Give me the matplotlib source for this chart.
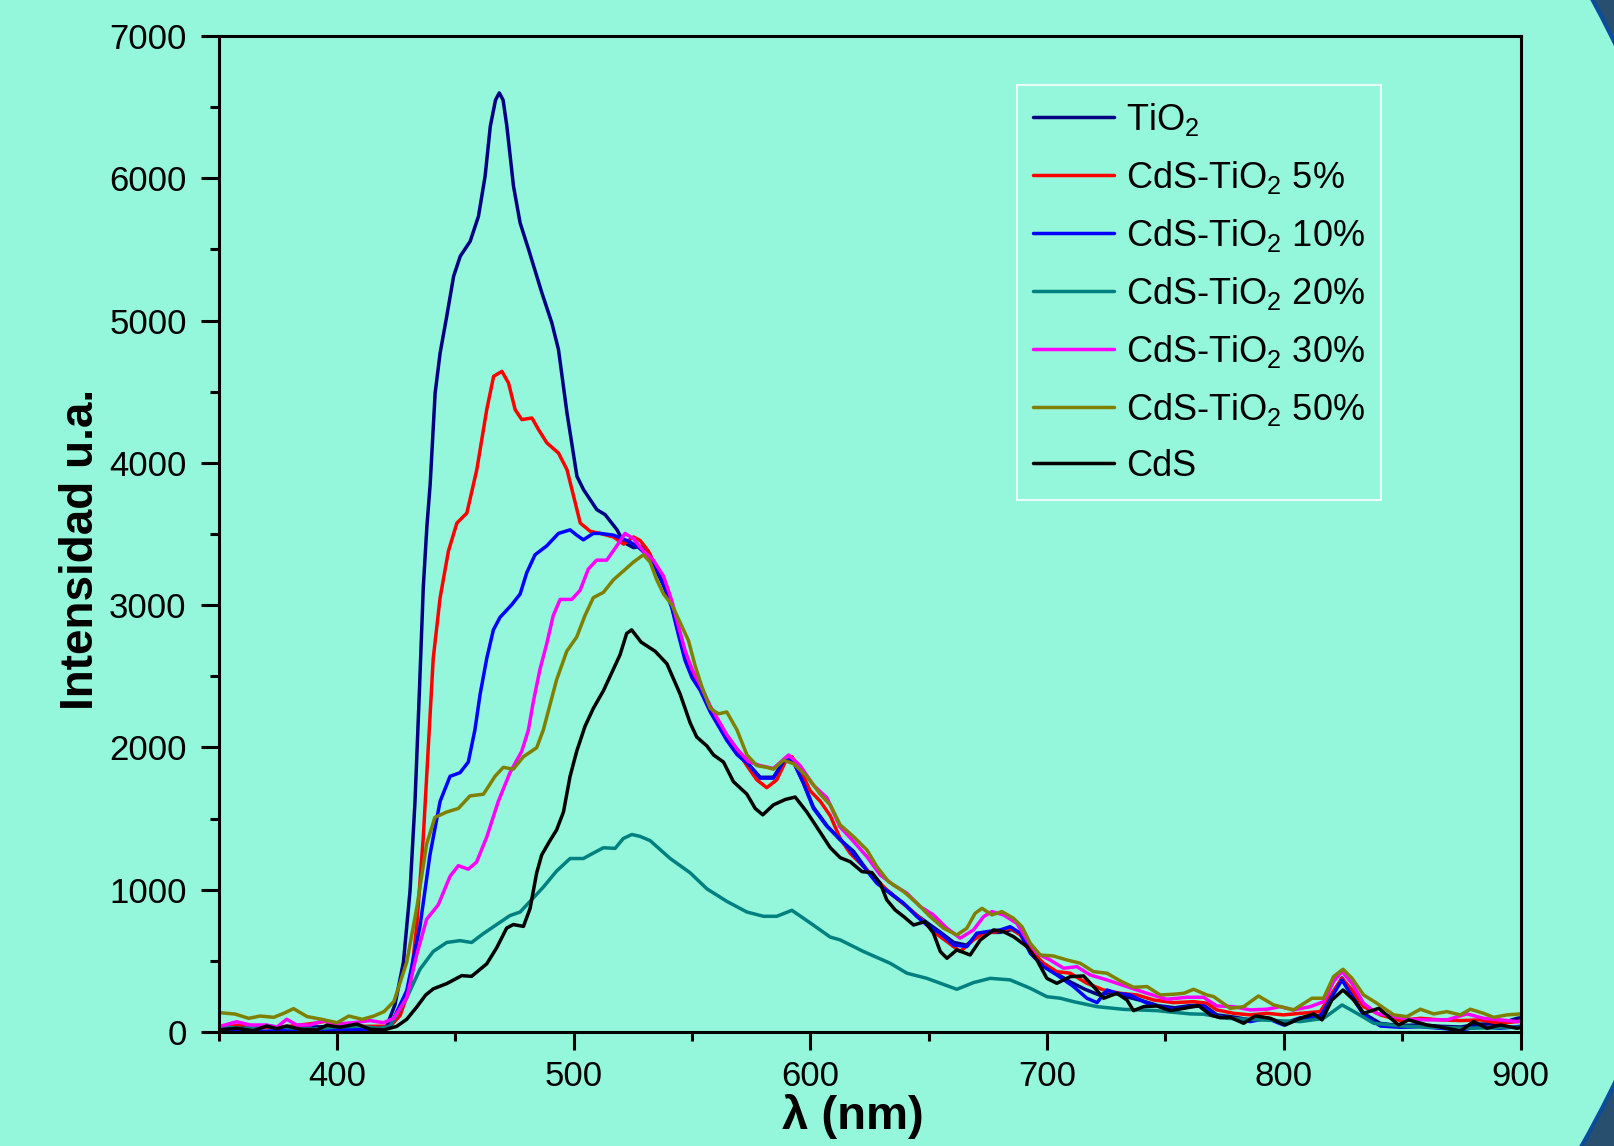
import matplotlib
matplotlib.use("Agg")
import matplotlib.pyplot as plt
import matplotlib.patches as mpatches
import matplotlib.transforms as mtransforms
from matplotlib.ticker import MultipleLocator

plt.rcParams['font.family'] = ['Liberation Sans', 'DejaVu Sans']
plt.rcParams['mathtext.fontset'] = 'custom'
plt.rcParams['mathtext.rm'] = 'Liberation Sans'

# PL spectra: (wavelength nm, intensity a.u.)
tio2 = [(350, 40), (360, 30), (370, 45), (380, 25), (390, 35), (400, 40), (410, 20), (418, 25),
        (421.0, 39), (424.5, 190), (428.1, 491), (430.9, 993), (433.0, 1621), (434.8, 2374),
        (436.5, 3128), (438.0, 3550), (439.4, 3850), (441.5, 4491), (443.6, 4772), (446.4, 5030),
        (449.3, 5311), (452.1, 5452), (456.3, 5557), (459.8, 5733), (462.6, 6014), (464.8, 6365),
        (467.0, 6550), (468.6, 6600), (470.2, 6550), (471.8, 6365), (474.6, 5944), (477.4, 5686),
        (481.0, 5498), (486.6, 5194), (490.8, 4983), (493.6, 4796), (497.2, 4350), (501.4, 3905),
        (504.2, 3811), (509.8, 3671), (513.3, 3636), (518.3, 3530), (521.1, 3442), (525.3, 3404),
        (529.5, 3416), (532.3, 3354), (535.1, 3240), (538.0, 3140), (541.5, 2990), (544.3, 2810),
        (547.1, 2640), (550.0, 2510), (553.5, 2410), (557.7, 2260), (561.2, 2160), (564.7, 2060),
        (569.0, 1960), (573.9, 1880), (578.8, 1790), (584.4, 1790), (589.4, 1920), (592.9, 1900),
        (597.1, 1750), (601.3, 1580), (607.0, 1450), (612.6, 1350), (618.2, 1270), (622.5, 1170),
        (628.1, 1050), (633.7, 980), (639.4, 900), (645.0, 820), (650.0, 760), (655.0, 700),
        (660.5, 630), (666.0, 610), (670.5, 680), (675.0, 700), (680.0, 700), (685.0, 720),
        (689.0, 690), (693.0, 570), (698.5, 470), (704.0, 410), (710.0, 350), (716.0, 300),
        (722.0, 260), (727.0, 280), (733.0, 250), (740.0, 220), (747.0, 185), (754.0, 170),
        (760.0, 185), (766.0, 190), (771.7, 120), (778.8, 105), (785.8, 85), (792.9, 100),
        (799.9, 60), (807.0, 100), (815.4, 115), (820.3, 260), (824.6, 380), (828.8, 260),
        (833.7, 130), (840.8, 60), (849.2, 45), (857.7, 50), (866.1, 40), (874.6, 35),
        (883.0, 55), (891.5, 60), (898.5, 96), (900, 100)]

cds_tio2_5 = [(350, 30), (360, 50), (370, 30), (380, 40), (390, 60), (395, 75), (400, 50), (410, 40),
              (418, 40), (422.4, 39), (426.7, 115), (430.9, 315), (433.7, 742), (436.5, 1370),
              (438.6, 1998), (440.7, 2626), (443.6, 3052), (447.1, 3379), (450.7, 3577), (454.9, 3647),
              (459.1, 3952), (463.3, 4374), (466.2, 4608), (469.7, 4643), (472.5, 4561), (475.3, 4374),
              (478.1, 4304), (482.4, 4315), (485.2, 4233), (488.7, 4140), (493.6, 4069), (497.2, 3952),
              (500.0, 3765), (502.8, 3577), (507.0, 3519), (511.2, 3504), (516.8, 3479), (521.1, 3429),
              (525.3, 3479), (528.1, 3454), (531.6, 3379), (535.1, 3253), (538.0, 3160), (541.5, 3010),
              (544.3, 2840), (547.1, 2665), (550.0, 2535), (553.5, 2430), (557.7, 2280), (561.2, 2180),
              (564.7, 2080), (569.0, 1980), (573.2, 1872), (577.4, 1772), (581.6, 1717), (585.8, 1772),
              (589.4, 1897), (592.2, 1935), (595.7, 1847), (599.9, 1696), (604.2, 1621), (608.4, 1520),
              (612.6, 1360), (616.8, 1256), (622.5, 1162), (628.1, 1069), (633.7, 975), (640.8, 881),
              (646.4, 799), (652.0, 705), (657.7, 635), (663.3, 565), (668.9, 647), (673.2, 694),
              (678.8, 705), (684.4, 729), (688.7, 682), (692.9, 577), (698.5, 483), (704.1, 424),
              (709.8, 413), (716.8, 342), (723.9, 295), (730.9, 272), (738.0, 260), (745.0, 225),
              (753.4, 206), (761.9, 213), (767.5, 202), (771.7, 155), (778.8, 131), (785.8, 120),
              (792.9, 131), (799.9, 120), (807.0, 131), (815.4, 143), (820.3, 272), (824.6, 377),
              (828.8, 295), (833.7, 178), (840.8, 120), (849.2, 80), (857.7, 96), (866.1, 85),
              (874.6, 80), (883.0, 85), (891.5, 61), (898.5, 73), (900, 75)]

cds_tio2_10 = [(350, 10), (360, 15), (370, 5), (380, 15), (390, 10), (400, 20), (410, 15), (418, 25),
               (422.4, 39), (429.5, 290), (435.1, 742), (439.3, 1244), (443.6, 1621), (447.8, 1797),
               (452.0, 1822), (455.5, 1897), (458.3, 2123), (460.5, 2374), (463.3, 2626), (466.1, 2826),
               (468.9, 2914), (473.8, 3002), (477.4, 3078), (480.2, 3228), (483.7, 3354), (488.6, 3416),
               (493.6, 3504), (498.5, 3529), (501.3, 3492), (504.1, 3459), (508.3, 3504), (511.2, 3504),
               (516.8, 3492), (522.5, 3454), (526.7, 3416), (530.9, 3354), (535.1, 3253), (538.0, 3140),
               (541.5, 2980), (544.3, 2790), (547.1, 2610), (550.0, 2490), (553.5, 2400), (557.7, 2250),
               (561.2, 2150), (564.7, 2050), (569.0, 1950), (573.9, 1880), (578.8, 1784), (584.4, 1784),
               (589.4, 1922), (592.9, 1897), (597.1, 1747), (601.3, 1571), (607.0, 1445), (612.6, 1355),
               (616.8, 1279), (622.5, 1162), (628.1, 1045), (633.7, 975), (639.4, 905), (645.0, 811),
               (649.2, 752), (654.9, 694), (660.5, 612), (666.1, 600), (670.3, 694), (674.6, 705),
               (680.2, 717), (684.4, 740), (688.7, 694), (692.9, 553), (698.5, 459), (704.1, 401),
               (711.2, 319), (716.8, 237), (721.1, 206), (725.3, 295), (729.5, 272), (735.1, 260),
               (742.2, 202), (747.8, 178), (753.4, 159), (760.5, 178), (766.1, 183), (771.7, 108),
               (778.8, 96), (785.8, 73), (792.9, 96), (799.9, 49), (807.0, 96), (815.4, 108),
               (820.3, 249), (824.6, 366), (828.8, 249), (833.7, 120), (840.8, 42), (849.2, 33),
               (857.7, 37), (866.1, 26), (874.6, 14), (883.0, 37), (891.5, 26), (898.5, 37), (900, 40)]

cds_tio2_20 = [(350, 40), (360, 25), (370, 40), (380, 30), (390, 20), (400, 35), (410, 40), (418, 25),
               (422.4, 39), (429.5, 240), (435.1, 441), (440.7, 566), (446.4, 629), (452.0, 642),
               (456.9, 629), (461.9, 692), (467.5, 755), (473.1, 818), (477.4, 843), (481.6, 918),
               (487.2, 1018), (492.8, 1131), (498.5, 1219), (504.1, 1219), (508.3, 1257), (512.6, 1295),
               (517.5, 1290), (521.0, 1360), (524.6, 1388), (528.0, 1375), (532.3, 1345), (540.8, 1219),
               (549.2, 1119), (556.3, 1006), (564.7, 918), (573.2, 843), (580.2, 813), (585.8, 813),
               (592.2, 855), (599.9, 767), (608.4, 667), (612.6, 647), (622.5, 565), (633.7, 483),
               (640.8, 413), (649.2, 377), (661.9, 300), (668.9, 347), (676.0, 377), (684.4, 366),
               (692.9, 307), (699.9, 248), (705.6, 237), (711.2, 213), (721.1, 178), (732.3, 159),
               (746.4, 150), (760.5, 127), (766.0, 125), (776.0, 96), (790.1, 85), (807.0, 73),
               (816.8, 96), (824.6, 190), (830.9, 131), (838.0, 61), (849.2, 42), (863.3, 33),
               (877.4, 26), (898.5, 33), (900, 33)]

cds_tio2_30 = [(350, 37), (357.7, 72), (363.4, 49), (370.4, 49), (374.6, 33), (378.8, 89), (383.1, 49),
               (388.7, 49), (394.4, 80), (400.0, 56), (407.0, 65), (414.1, 80), (419.7, 65), (424.0, 96),
               (429.5, 240), (433.7, 541), (437.9, 792), (442.8, 893), (447.8, 1094), (451.3, 1169),
               (455.5, 1144), (459.0, 1194), (463.3, 1370), (468.2, 1621), (473.1, 1822), (478.1, 1973),
               (480.9, 2123), (483.0, 2324), (485.8, 2550), (488.6, 2726), (491.4, 2927), (494.3, 3040),
               (499.2, 3040), (502.7, 3103), (506.2, 3253), (509.7, 3316), (514.0, 3316), (518.2, 3416),
               (521.7, 3504), (525.3, 3467), (529.5, 3379), (533.7, 3316), (538.0, 3203), (541.5, 3030),
               (544.3, 2850), (547.1, 2680), (550.0, 2550), (553.5, 2440), (557.7, 2290), (561.2, 2190),
               (564.7, 2090), (569.0, 1990), (573.9, 1900), (578.8, 1872), (584.4, 1852), (590.8, 1947),
               (595.7, 1872), (601.3, 1734), (607.0, 1646), (612.6, 1440), (618.2, 1340), (623.9, 1232),
               (629.5, 1104), (635.1, 1033), (640.8, 975), (646.4, 881), (652.0, 823), (657.7, 729),
               (663.3, 659), (668.9, 717), (673.2, 811), (676.7, 846), (681.6, 823), (687.2, 764),
               (691.5, 647), (695.7, 553), (701.3, 506), (707.0, 448), (712.6, 459), (718.2, 401),
               (725.3, 366), (733.7, 319), (742.2, 272), (750.6, 230), (759.1, 244), (766.1, 244),
               (771.7, 183), (778.8, 178), (785.8, 155), (792.9, 160), (798.5, 178), (804.1, 155),
               (811.2, 178), (816.8, 213), (821.0, 354), (824.6, 424), (828.8, 342), (833.7, 202),
               (839.3, 131), (846.4, 108), (853.4, 89), (860.5, 85), (868.9, 85), (877.4, 127),
               (884.4, 96), (891.5, 85), (898.5, 73), (900, 75)]

cds_tio2_50 = [(350, 136), (357, 126), (362.7, 96), (367.6, 112), (373.3, 103), (377.5, 131), (381.7, 164),
               (387.4, 108), (393.0, 91), (400.1, 65), (405.0, 112), (410.7, 89), (415.6, 112), (419.9, 143),
               (424.1, 215), (429.5, 491), (433.7, 868), (437.9, 1320), (441.4, 1508), (446.4, 1546),
               (451.3, 1571), (456.2, 1659), (461.9, 1671), (466.8, 1797), (470.3, 1860), (474.5, 1847),
               (478.8, 1935), (484.4, 1998), (487.2, 2123), (490.0, 2299), (492.8, 2475), (497.1, 2676),
               (501.3, 2776), (504.8, 2927), (508.3, 3052), (512.6, 3090), (516.8, 3178), (521.1, 3241),
               (525.3, 3303), (529.5, 3354), (532.3, 3303), (535.1, 3178), (538.0, 3078), (541.5, 3002),
               (545.0, 2877), (548.5, 2751), (551.3, 2575), (554.2, 2425), (557.7, 2274), (561.2, 2236),
               (564.7, 2249), (569.0, 2123), (573.2, 1947), (577.4, 1872), (581.6, 1860), (584.4, 1847),
               (588.7, 1910), (592.9, 1885), (598.5, 1797), (604.2, 1671), (608.4, 1596), (612.6, 1455),
               (618.2, 1373), (623.9, 1279), (628.1, 1162), (633.0, 1057), (639.4, 987), (645.0, 905),
               (650.6, 811), (656.3, 729), (661.9, 682), (666.1, 729), (669.6, 834), (672.5, 869),
               (676.7, 823), (680.9, 846), (685.8, 799), (689.4, 740), (692.9, 623), (697.1, 541),
               (702.7, 534), (708.4, 506), (714.0, 483), (719.6, 424), (725.3, 413), (730.9, 359),
               (736.5, 314), (742.2, 319), (747.8, 260), (753.4, 265), (757.7, 272), (761.9, 300),
               (767.5, 260), (770.3, 249), (777.4, 166), (783.0, 178), (789.3, 253), (795.7, 190),
               (804.1, 155), (811.9, 237), (816.8, 237), (821.0, 389), (825.0, 441), (828.8, 377),
               (833.7, 260), (839.3, 202), (846.4, 120), (852.0, 108), (857.7, 160), (863.3, 127),
               (868.9, 143), (874.6, 120), (878.8, 160), (884.4, 131), (888.6, 103), (894.3, 120),
               (900, 127)]

cds = [(350, 14), (357.7, 26), (364.7, 9), (370.4, 42), (374.6, 23), (378.8, 42), (384.5, 19), (391.5, 14),
       (395.7, 47), (401.3, 33), (408.4, 56), (414.0, 19), (419.7, 14), (425.2, 39), (429.5, 89),
       (433.7, 175), (437.5, 260), (440.7, 303), (446.4, 340), (452.7, 396), (456.9, 391), (463.3, 479),
       (467.5, 592), (471.7, 730), (474.5, 755), (478.8, 742), (481.6, 868), (484.4, 1119), (486.5, 1244),
       (490.0, 1345), (492.8, 1420), (495.7, 1546), (498.5, 1797), (501.3, 1973), (504.8, 2148),
       (508.3, 2274), (512.6, 2399), (516.8, 2550), (519.6, 2651), (522.4, 2801), (524.5, 2826),
       (528.5, 2740), (534.4, 2676), (539.4, 2588), (545.0, 2374), (549.2, 2173), (552.0, 2073),
       (556.3, 2010), (559.1, 1947), (563.3, 1897), (567.5, 1759), (573.2, 1671), (576.7, 1571),
       (579.9, 1526), (584.4, 1596), (589.4, 1634), (593.6, 1651), (598.5, 1546), (603.5, 1420),
       (608.4, 1295), (612.6, 1225), (616.8, 1197), (621.8, 1127), (626.0, 1120), (629.5, 1045),
       (632.3, 928), (635.8, 858), (639.4, 811), (643.6, 752), (648.5, 776), (652.0, 694), (654.9, 565),
       (657.7, 518), (661.9, 577), (667.5, 541), (671.8, 647), (677.4, 717), (681.6, 705), (685.8, 670),
       (691.5, 600), (695.7, 506), (699.9, 377), (704.1, 342), (709.8, 389), (715.4, 394), (719.6, 319),
       (723.9, 237), (729.5, 272), (733.7, 225), (736.5, 150), (740.8, 178), (746.4, 183), (752.0, 150),
       (757.7, 166), (764.0, 185), (769.0, 120), (773.2, 100), (777.4, 103), (783.0, 61), (788.0, 113),
       (794.3, 96), (800.6, 49), (807.0, 96), (812.6, 127), (816.1, 85), (820.3, 225), (825.0, 295),
       (829.5, 225), (833.7, 131), (840.1, 166), (844.3, 108), (848.5, 49), (852.7, 85), (860.5, 49),
       (866.1, 35), (874.6, 7), (880.2, 73), (885.8, 26), (891.5, 49), (898.5, 26), (900, 30)]

series = [
    (tio2, r'TiO$\mathregular{_2}$', '#000080'),
    (cds_tio2_5, r'CdS-TiO$\mathregular{_2}$ 5%', '#ff0000'),
    (cds_tio2_10, r'CdS-TiO$\mathregular{_2}$ 10%', '#0000ff'),
    (cds_tio2_20, r'CdS-TiO$\mathregular{_2}$ 20%', '#008080'),
    (cds_tio2_30, r'CdS-TiO$\mathregular{_2}$ 30%', '#ff00ff'),
    (cds_tio2_50, r'CdS-TiO$\mathregular{_2}$ 50%', '#808000'),
    (cds, 'CdS', '#000000'),
]

bg = '#94f6da'
fig = plt.figure(figsize=(16.14, 11.46), dpi=100, facecolor=bg)

# dark rounded slide border on the right
ident = mtransforms.IdentityTransform()
fig.add_artist(mpatches.Wedge((550, 583), 3000, 0, 360, width=3000 - 1185,
                              facecolor='#28506e', edgecolor='none', transform=ident, zorder=-2))
fig.add_artist(mpatches.Circle((550, 583), 1185, facecolor='none', edgecolor='#0b4c9c',
                               linewidth=3, transform=ident, zorder=-1))

ax = fig.add_axes([0.1354, 0.0995, 0.8067, 0.8691])
ax.set_facecolor(bg)

for data, label, color in series:
    x = [p[0] for p in data]
    y = [p[1] for p in data]
    ax.plot(x, y, color=color, lw=2.5, label=label,
            solid_joinstyle='round', solid_capstyle='round')

ax.set_xlim(350, 900)
ax.set_ylim(0, 7000)
ax.xaxis.set_major_locator(MultipleLocator(100))
ax.xaxis.set_minor_locator(MultipleLocator(50))
ax.yaxis.set_major_locator(MultipleLocator(1000))
ax.yaxis.set_minor_locator(MultipleLocator(500))

for s in ax.spines.values():
    s.set_linewidth(2.2)
ax.tick_params(which='major', length=13, width=2.2, labelsize=25)
ax.tick_params(which='minor', length=6.5, width=2.2)
ax.tick_params(axis='x', which='major', pad=7)
ax.tick_params(axis='y', which='major', pad=10)

ax.set_xlabel('λ (nm)', fontsize=34, fontweight='bold', va='center')
ax.xaxis.set_label_coords(0.487, -0.085)
ax.set_ylabel('Intensidad u.a.', fontsize=33, fontweight='bold', va='center')
ax.yaxis.set_label_coords(-0.106, 0.484)

leg = ax.legend(loc='upper left', bbox_to_anchor=(0.613, 0.951), borderaxespad=0,
                fontsize=26, frameon=True, fancybox=False, handlelength=2.25,
                handletextpad=0.33, labelspacing=0.58, borderpad=0.45)
leg.get_frame().set_edgecolor('white')
leg.get_frame().set_facecolor('none')
leg.get_frame().set_linewidth(1.5)

fig.savefig('out.png', dpi=100, facecolor=bg)
